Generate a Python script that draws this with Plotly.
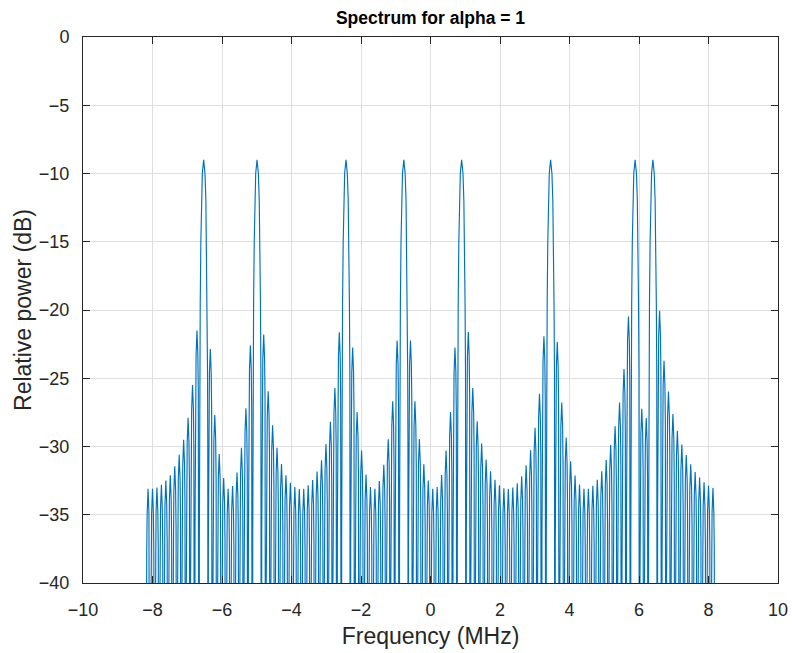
import plotly.graph_objects as go

# ---------------- data ----------------
# Main lobes (tones): centre frequency (MHz) and peak level (dB)
tone_freq_mhz = [-6.528, -4.992, -2.432, -0.768, 0.896, 3.456, 5.888, 6.4]
tone_peak_db = [-9.0, -9.0, -9.0, -9.0, -9.0, -9.0, -9.0, -9.0]

# Side lobes: centre frequency (MHz) and peak level (dB)
sidelobe_freq_mhz = [
    -8.128, -8.0, -7.872, -7.744, -7.616, -7.488, -7.36, -7.232, -7.104, -6.976, -6.848, -6.72,
    -6.336, -6.208, -6.08, -5.952, -5.824, -5.696, -5.568, -5.44, -5.312, -5.184,
    -4.8, -4.672, -4.544, -4.416, -4.288, -4.16, -4.032, -3.904, -3.776, -3.648, -3.52, -3.392,
    -3.264, -3.136, -3.008, -2.88, -2.752, -2.624,
    -2.24, -2.112, -1.984, -1.856, -1.728, -1.6, -1.472, -1.344, -1.216, -1.088, -0.96,
    -0.576, -0.448, -0.32, -0.192, -0.064, 0.064, 0.192, 0.32, 0.448, 0.576, 0.704,
    1.088, 1.216, 1.344, 1.472, 1.6, 1.728, 1.856, 1.984, 2.112, 2.24, 2.368, 2.496, 2.624,
    2.752, 2.88, 3.008, 3.136, 3.264,
    3.648, 3.776, 3.904, 4.032, 4.16, 4.288, 4.416, 4.544, 4.672, 4.8, 4.928, 5.056, 5.184,
    5.312, 5.44, 5.568, 5.696,
    6.08, 6.208,
    6.592, 6.72, 6.848, 6.976, 7.104, 7.232, 7.36, 7.488, 7.616, 7.744, 7.872, 8.0, 8.128,
]
sidelobe_peak_db = [
    -33.1, -33.1, -33.0, -32.8, -32.5, -32.1, -31.45, -30.6, -29.5, -27.9, -25.5, -21.5,
    -22.86, -27.7, -30.55, -32.3, -33.1, -32.9, -31.9, -30.1, -27.2, -22.6,
    -21.8, -25.96, -28.45, -30.1, -31.28, -32.11, -32.65, -32.96, -33.11, -33.09, -32.84, -32.45,
    -31.84, -31.0, -29.82, -28.18, -25.72, -21.64,
    -22.74, -27.47, -30.3, -32.06, -32.96, -33.09, -32.52, -31.33, -29.47, -26.69, -22.23,
    -22.23, -26.69, -29.45, -31.3, -32.5, -33.09, -32.96, -32.09, -30.3, -27.47, -22.74,
    -21.62, -25.72, -28.16, -29.79, -30.96, -31.82, -32.43, -32.84, -33.06, -33.11, -33.01, -32.7, -32.18,
    -31.38, -30.28, -28.62, -26.13, -21.93,
    -22.35, -26.77, -29.35, -31.08, -32.13, -32.79, -33.09, -33.09, -32.87, -32.43, -31.82, -30.99, -29.89,
    -28.52, -26.77, -24.33, -20.47,
    -27.23, -27.91,
    -20.06, -23.72, -25.98, -27.62, -28.84, -29.86, -30.62, -31.3, -31.87, -32.28, -32.62, -32.87, -33.04,
]

# Lobe half widths (null to peak) and lobe profile
main_halfwidth_mhz = 0.128
side_halfwidth_mhz = 0.064
main_profile_frac = [0.0, 0.3, 0.5, 0.63, 0.77, 0.87, 0.93, 0.97]
main_profile_drop_db = [0.0, -1.0, -3.0, -6.0, -10.5, -15.5, -21.0, -28.0]
side_profile_frac = [0.0, 0.4, 0.6, 0.76, 0.88]
side_profile_drop_db = [0.0, -1.8, -4.6, -8.7, -14.5]
null_db = -80.0

x_tick_vals = [-10, -8, -6, -4, -2, 0, 2, 4, 6, 8, 10]
y_tick_vals = [0, -5, -10, -15, -20, -25, -30, -35, -40]

# ---------------- build the trace ----------------
lobes = []
for f, p in zip(tone_freq_mhz, tone_peak_db):
    lobes.append((f, p, main_halfwidth_mhz, main_profile_frac, main_profile_drop_db))
for f, p in zip(sidelobe_freq_mhz, sidelobe_peak_db):
    lobes.append((f, p, side_halfwidth_mhz, side_profile_frac, side_profile_drop_db))
lobes.sort(key=lambda t: t[0])

xs, ys = [], []
for c, p, hw, fr, dr in lobes:
    xs.append(c - hw)
    ys.append(null_db)
    for a, d in zip(reversed(fr[1:]), reversed(dr[1:])):
        xs.append(c - a * hw)
        ys.append(p + d)
    xs.append(c)
    ys.append(p)
    for a, d in zip(fr[1:], dr[1:]):
        xs.append(c + a * hw)
        ys.append(p + d)
    xs.append(c + hw)
    ys.append(null_db)

FONT = "Liberation Sans, Arial, Helvetica, sans-serif"
AX = "#262626"
GRID = "#dfdfdf"

fig = go.Figure()
fig.add_trace(go.Scatter(x=xs, y=ys, mode="lines",
                         line=dict(color="#0072BD", width=1.15),
                         hoverinfo="skip", showlegend=False))

fig.update_layout(
    width=792, height=653,
    margin=dict(l=83, r=14, t=37, b=70, pad=0, autoexpand=False),
    paper_bgcolor="white", plot_bgcolor="white",
    showlegend=False,
    font=dict(family=FONT, color=AX),
    title=dict(text="<b>Spectrum for alpha = 1</b>", x=0.5, xanchor="center",
               xref="paper", y=1 - 18 / 653, yanchor="middle", yref="container",
               font=dict(family=FONT, size=17.5, color="#000000")),
)
fig.update_xaxes(
    range=[-10, 10], tickvals=x_tick_vals, ticks="inside", ticklen=7, tickcolor=AX, tickwidth=1,
    showline=True, linecolor=AX, linewidth=1, mirror="ticks", automargin=False,
    showgrid=True, gridcolor=GRID, gridwidth=1, zeroline=False,
    tickfont=dict(family=FONT, size=18, color=AX), ticklabelstandoff=10,
    title=dict(text="Frequency (MHz)", font=dict(family=FONT, size=23, color=AX), standoff=9),
)
fig.update_yaxes(
    range=[-40, 0], tickvals=y_tick_vals, ticks="inside", ticklen=7, tickcolor=AX, tickwidth=1,
    showline=True, linecolor=AX, linewidth=1, mirror="ticks", automargin=False,
    showgrid=True, gridcolor=GRID, gridwidth=1, zeroline=False,
    tickfont=dict(family=FONT, size=18, color=AX), ticklabelstandoff=9,
    title=dict(text="Relative power (dB)", font=dict(family=FONT, size=23, color=AX), standoff=0),
)

fig.write_html("out.html")
